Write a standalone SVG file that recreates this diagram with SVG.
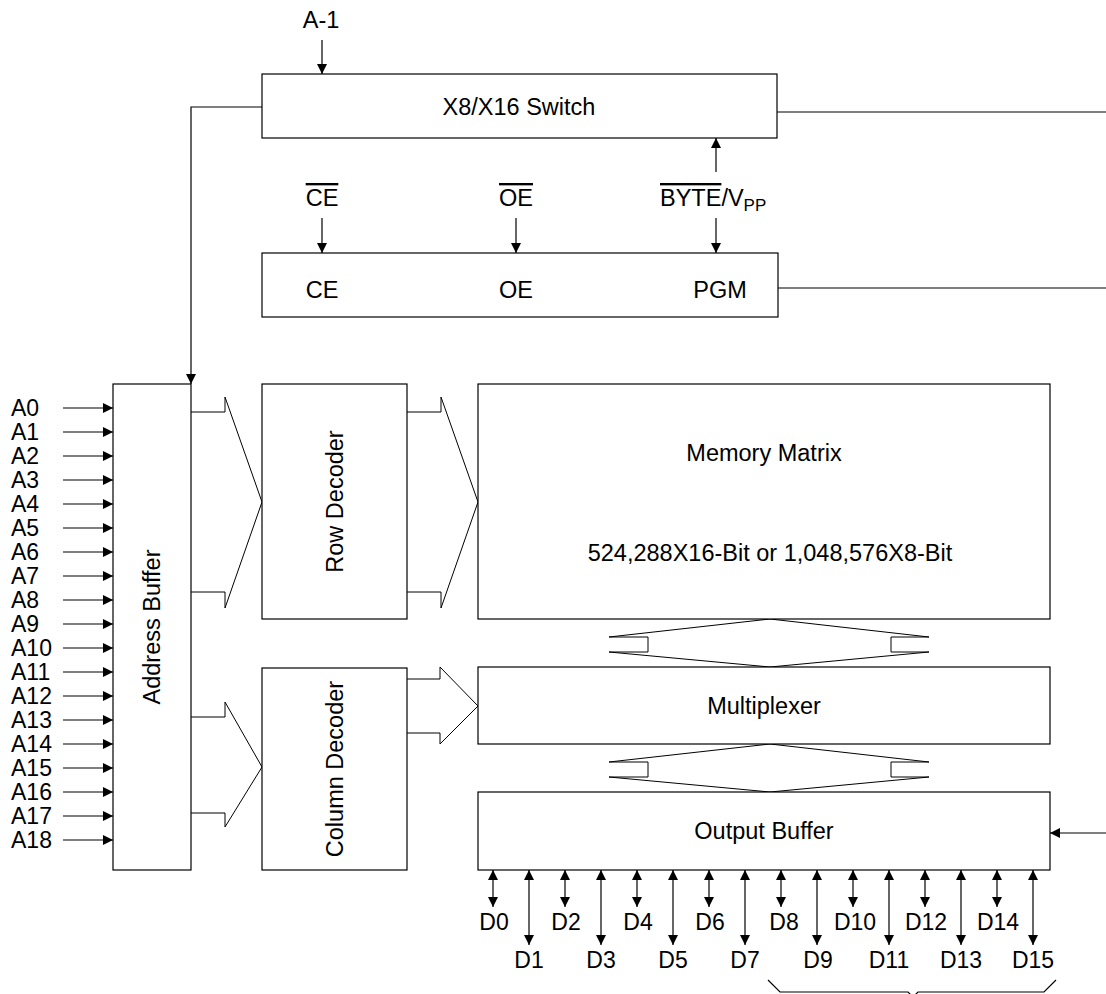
<svg xmlns="http://www.w3.org/2000/svg" width="1106" height="994" viewBox="0 0 1106 994">
<defs>
<marker id="ah" viewBox="0 0 10 10" refX="10" refY="5" markerWidth="11" markerHeight="10" markerUnits="userSpaceOnUse" orient="auto-start-reverse">
<path d="M0,0 L10,5 L0,10 z" fill="#000"/>
</marker>
<style>
.box{fill:#fff;stroke:#000;stroke-width:1.2}
.ln{fill:none;stroke:#000;stroke-width:1.2}
.bus{fill:#fff;stroke:#000;stroke-width:1}
.arr{fill:none;stroke:#000;stroke-width:1.2;marker-end:url(#ah)}
.bi{fill:none;stroke:#000;stroke-width:1.2;marker-start:url(#ah);marker-end:url(#ah)}
text{font-family:"Liberation Sans",Arial,sans-serif;font-size:23.5px;fill:#000}
.pin{font-size:23px}
.c{text-anchor:middle}
.ol{text-decoration:overline}
</style>
</defs>
<rect width="1106" height="994" fill="#fff"/>

<g id="connectors">
<line class="arr" x1="322" y1="40" x2="322" y2="74"/>
<polyline class="arr" points="262,107 191,107 191,384"/>
<line class="ln" x1="777" y1="112" x2="1106" y2="112"/>
<line class="ln" x1="778" y1="288" x2="1106" y2="288"/>
<line class="arr" x1="322" y1="218" x2="322" y2="253"/>
<line class="arr" x1="516" y1="218" x2="516" y2="253"/>
<line class="arr" x1="716" y1="218" x2="716" y2="253"/>
<line class="arr" x1="716" y1="172" x2="716" y2="138"/>
<g id="addr-inputs">
<line class="arr" x1="63" y1="408" x2="113" y2="408"/>
<line class="arr" x1="63" y1="432" x2="113" y2="432"/>
<line class="arr" x1="63" y1="456" x2="113" y2="456"/>
<line class="arr" x1="63" y1="480" x2="113" y2="480"/>
<line class="arr" x1="63" y1="504" x2="113" y2="504"/>
<line class="arr" x1="63" y1="528" x2="113" y2="528"/>
<line class="arr" x1="63" y1="552" x2="113" y2="552"/>
<line class="arr" x1="63" y1="576" x2="113" y2="576"/>
<line class="arr" x1="63" y1="600" x2="113" y2="600"/>
<line class="arr" x1="63" y1="624" x2="113" y2="624"/>
<line class="arr" x1="63" y1="648" x2="113" y2="648"/>
<line class="arr" x1="63" y1="672" x2="113" y2="672"/>
<line class="arr" x1="63" y1="696" x2="113" y2="696"/>
<line class="arr" x1="63" y1="720" x2="113" y2="720"/>
<line class="arr" x1="63" y1="744" x2="113" y2="744"/>
<line class="arr" x1="63" y1="768" x2="113" y2="768"/>
<line class="arr" x1="63" y1="792" x2="113" y2="792"/>
<line class="arr" x1="63" y1="816" x2="113" y2="816"/>
<line class="arr" x1="63" y1="840" x2="113" y2="840"/>
</g>
<polyline class="bus" points="191,412 225,412 225,397 262,502 225,608 225,592 191,592"/>
<polyline class="bus" points="407,412 441,412 441,397 478,502 441,608 441,592 407,592"/>
<polyline class="bus" points="191,717 225,717 225,702 262,767 225,827 225,813 191,813"/>
<polyline class="bus" points="407,679 440,679 440,667 478,706 440,744 440,733 407,733"/>
<polygon class="bus" points="770,619 609,637 648,637 648,652 609,652 770,667 929,652 891,652 891,637 929,637"/>
<polygon class="bus" points="770,744 609,762 648,762 648,777 609,777 770,792 929,777 891,777 891,762 929,762"/>
<line class="arr" x1="1106" y1="833" x2="1050" y2="833"/>
<g id="data-lines">
<line class="bi" x1="493" y1="870" x2="493" y2="907"/>
<line class="bi" x1="529" y1="870" x2="529" y2="945"/>
<line class="bi" x1="565" y1="870" x2="565" y2="907"/>
<line class="bi" x1="601" y1="870" x2="601" y2="945"/>
<line class="bi" x1="637" y1="870" x2="637" y2="907"/>
<line class="bi" x1="673" y1="870" x2="673" y2="945"/>
<line class="bi" x1="709" y1="870" x2="709" y2="907"/>
<line class="bi" x1="745" y1="870" x2="745" y2="945"/>
<line class="bi" x1="781" y1="870" x2="781" y2="907"/>
<line class="bi" x1="817" y1="870" x2="817" y2="945"/>
<line class="bi" x1="853" y1="870" x2="853" y2="907"/>
<line class="bi" x1="889" y1="870" x2="889" y2="945"/>
<line class="bi" x1="925" y1="870" x2="925" y2="907"/>
<line class="bi" x1="961" y1="870" x2="961" y2="945"/>
<line class="bi" x1="997" y1="870" x2="997" y2="907"/>
<line class="bi" x1="1033" y1="870" x2="1033" y2="945"/>
</g>
<path class="ln" d="M768,980 L780,992 L908,992 L913,997 L918,992 L1044,992 L1056,980" stroke-width="1"/>
</g>

<g id="switch">
<rect class="box" x="262" y="74" width="515" height="64"/>
<text class="c" x="519" y="115">X8/X16 Switch</text>
</g>
<g id="control">
<rect class="box" x="262" y="253" width="516" height="64"/>
<text class="c" x="322" y="298">CE</text>
<text class="c" x="516" y="298">OE</text>
<text class="c" x="720" y="298">PGM</text>
</g>
<g id="labels-top">
<text class="c" x="321" y="28">A-1</text>
<text class="c ol" x="322" y="206">CE</text>
<text class="c ol" x="516" y="206">OE</text>
<text x="660" y="206"><tspan class="ol">BYTE</tspan>/V<tspan font-size="17" baseline-shift="-5">PP</tspan></text>
</g>
<g id="address-buffer">
<rect class="box" x="113" y="384" width="78" height="486"/>
<text class="c" transform="translate(152,627) rotate(-90)" dy="0.36em">Address Buffer</text>
</g>
<g id="addr-labels" class="pin">
<text class="pin" x="11" y="416">A0</text>
<text class="pin" x="11" y="440">A1</text>
<text class="pin" x="11" y="464">A2</text>
<text class="pin" x="11" y="488">A3</text>
<text class="pin" x="11" y="512">A4</text>
<text class="pin" x="11" y="536">A5</text>
<text class="pin" x="11" y="560">A6</text>
<text class="pin" x="11" y="584">A7</text>
<text class="pin" x="11" y="608">A8</text>
<text class="pin" x="11" y="632">A9</text>
<text class="pin" x="11" y="656">A10</text>
<text class="pin" x="11" y="680">A11</text>
<text class="pin" x="11" y="704">A12</text>
<text class="pin" x="11" y="728">A13</text>
<text class="pin" x="11" y="752">A14</text>
<text class="pin" x="11" y="776">A15</text>
<text class="pin" x="11" y="800">A16</text>
<text class="pin" x="11" y="824">A17</text>
<text class="pin" x="11" y="848">A18</text>
</g>
<g id="row-decoder">
<rect class="box" x="262" y="384" width="145" height="235"/>
<text class="c" transform="translate(334.5,501.5) rotate(-90)" dy="0.36em">Row Decoder</text>
</g>
<g id="column-decoder">
<rect class="box" x="262" y="668" width="145" height="202"/>
<text class="c" transform="translate(334.5,769) rotate(-90)" dy="0.36em">Column Decoder</text>
</g>
<g id="memory-matrix">
<rect class="box" x="478" y="384" width="572" height="235"/>
<text class="c" x="764" y="461">Memory Matrix</text>
<text class="c" x="770" y="561">524,288X16-Bit or 1,048,576X8-Bit</text>
</g>
<g id="multiplexer">
<rect class="box" x="478" y="667" width="572" height="77"/>
<text class="c" x="764" y="714">Multiplexer</text>
</g>
<g id="output-buffer">
<rect class="box" x="478" y="792" width="572" height="78"/>
<text class="c" x="764" y="839">Output Buffer</text>
</g>
<g id="data-labels">
<text class="c pin" x="494" y="930">D0</text>
<text class="c pin" x="529" y="968">D1</text>
<text class="c pin" x="566" y="930">D2</text>
<text class="c pin" x="601" y="968">D3</text>
<text class="c pin" x="638" y="930">D4</text>
<text class="c pin" x="673" y="968">D5</text>
<text class="c pin" x="710" y="930">D6</text>
<text class="c pin" x="745" y="968">D7</text>
<text class="c pin" x="784" y="930">D8</text>
<text class="c pin" x="818" y="968">D9</text>
<text class="c pin" x="855" y="930">D10</text>
<text class="c pin" x="889" y="968">D11</text>
<text class="c pin" x="926" y="930">D12</text>
<text class="c pin" x="961" y="968">D13</text>
<text class="c pin" x="998" y="930">D14</text>
<text class="c pin" x="1033" y="968">D15</text>
</g>
</svg>
